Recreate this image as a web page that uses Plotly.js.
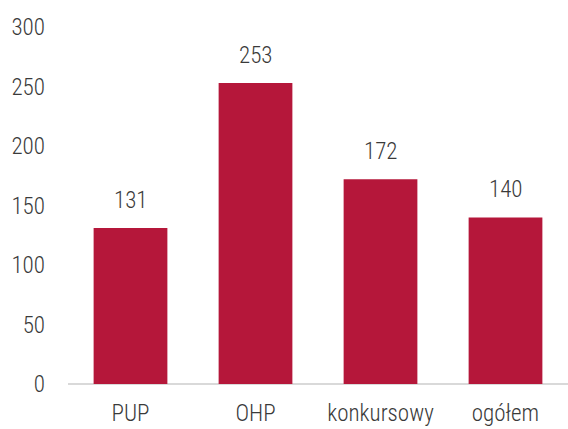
<!DOCTYPE html>
<html>
<head>
<meta charset="utf-8">
<script src="https://cdn.plot.ly/plotly-3.0.1.min.js"></script>
<style>
  html, body { margin: 0; padding: 0; background: #fff; }
  #chart { width: 568px; height: 429px; }
</style>
</head>
<body>
<div id="chart"></div>
<script>
// categories and values
const categories = ['PUP', 'OHP', 'konkursowy', 'ogółem'];
const values = [131, 253, 172, 140];
const yTicks = [0, 50, 100, 150, 200, 250, 300];

const barColor = '#B5173A';
const textColor = '#3a3a3a';
const fontFamily = '"Roboto Condensed", "Roboto", sans-serif';

const data = [{
  type: 'bar',
  x: categories,
  y: values,
  marker: { color: barColor },
  hoverinfo: 'skip',
}];

// value labels above each bar
const annotations = categories.map((c, i) => ({
  x: c,
  y: values[i],
  text: String(values[i]),
  showarrow: false,
  yanchor: 'bottom',
  yshift: 12,
  font: { family: fontFamily, size: 23, color: textColor, weight: 300 },
}));

const layout = {
  width: 568,
  height: 429,
  margin: { l: 68, r: 0, t: 27, b: 45 },
  paper_bgcolor: '#ffffff',
  plot_bgcolor: '#ffffff',
  bargap: 0.41,
  showlegend: false,
  font: { family: fontFamily, size: 23, color: textColor, weight: 300 },
  xaxis: {
    showgrid: false,
    showline: false,
    zeroline: false,
    ticks: '',
    ticklabelstandoff: 13,
    tickfont: { family: fontFamily, size: 23, color: textColor, weight: 300 },
  },
  yaxis: {
    range: [0, 300],
    tickvals: yTicks,
    showgrid: false,
    zeroline: true,
    zerolinecolor: '#d9d9d9',
    zerolinewidth: 2,
    showline: false,
    ticks: '',
    ticklabelstandoff: 22,
    tickfont: { family: fontFamily, size: 23, color: textColor, weight: 300 },
  },
  annotations: annotations,
};

Plotly.newPlot('chart', data, layout, { staticPlot: true });
</script>
</body>
</html>
